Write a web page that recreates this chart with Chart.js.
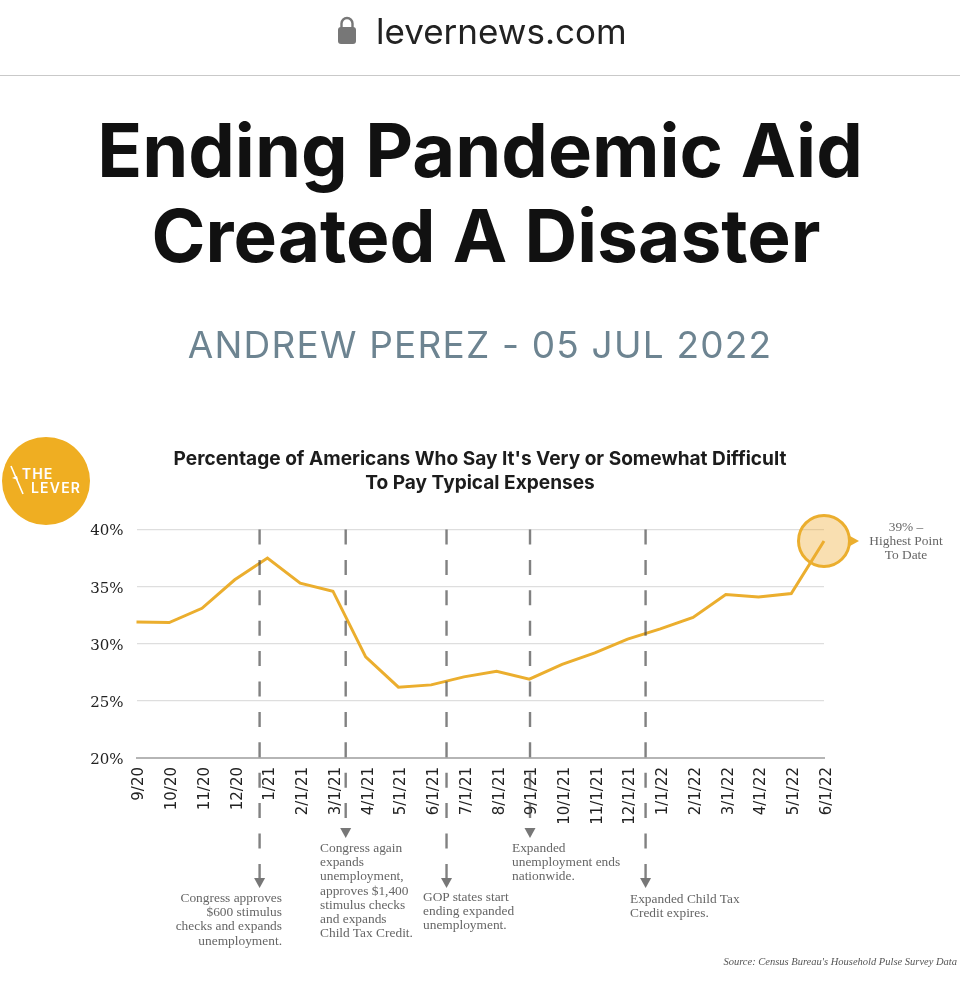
<!DOCTYPE html>
<html lang="en">
<head>
<meta charset="utf-8">
<title>Ending Pandemic Aid Created A Disaster</title>
<script src="https://cdn.jsdelivr.net/npm/chart.js@4/dist/chart.umd.min.js"></script>
<style>
    html, body { margin: 0; padding: 0; background: #fff; }
    #pagina { position: relative; width: 960px; height: 1005px; overflow: hidden; font-family: Inter, sans-serif; }
    #pagina canvas { position: absolute; left: 0; top: 0; }
    .abs { position: absolute; white-space: nowrap; }
    #dominio { left: 376px; top: 10px; font-size: 35px; line-height: 42px; color: #222; }
    #candado { position: absolute; left: 337px; top: 15px; }
    #regla { position: absolute; left: 0; top: 75px; width: 960px; height: 1px; background: #c9c9c9; }
    #titular1 { left: 0; top: 108px; width: 960px; text-align: center; font-size: 74px; line-height: 85px; font-weight: 700; color: #111; }
    #titular2 { left: 6px; top: 193px; width: 960px; text-align: center; font-size: 73px; line-height: 85px; font-weight: 700; color: #111; }
    #firma { left: 0; top: 322px; width: 960px; text-align: center; font-size: 37px; line-height: 46px; color: #6d8491; letter-spacing: 1.2px; }
    #subtitulo { left: 0; top: 447px; width: 960px; text-align: center; font-size: 19.1px; line-height: 23.5px; font-weight: 700; color: #1c1c1c; }
    #logo { position: absolute; left: 2px; top: 437px; width: 88px; height: 88px; border-radius: 50%; background: #efae22; }
    #logo div { position: absolute; color: #fff; font-weight: 600; font-size: 14px; line-height: 14px; letter-spacing: 1.2px; }
    .nota { font-family: "Liberation Serif", serif; font-size: 13.4px; line-height: 14.2px; color: #666; }
    #fuente { right: 3px; top: 956px; font-family: "Liberation Serif", serif; font-style: italic; font-size: 10.5px; line-height: 12px; color: #555; }
</style>
</head>
<body>
<div id="pagina">
    <canvas id="graficaGastos" width="960" height="1005"></canvas>

    <svg id="candado" width="20" height="30" viewBox="0 0 20 30">
        <path d="M4.5 13V8.5a5.5 5.5 0 0 1 11 0V13" fill="none" stroke="#777" stroke-width="2.4"/>
        <rect x="1" y="12" width="18" height="17" rx="3" fill="#777"/>
    </svg>
    <div class="abs" id="dominio">levernews.com</div>
    <div id="regla"></div>
    <div class="abs" id="titular1">Ending Pandemic Aid</div>
    <div class="abs" id="titular2">Created A Disaster</div>
    <div class="abs" id="firma">ANDREW PEREZ - 05 JUL 2022</div>

    <div id="logo">
        <svg width="88" height="88" style="position:absolute;left:0;top:0">
            <line x1="9" y1="29" x2="21" y2="57" stroke="#fff" stroke-width="1.6"/>
            <path d="M10 41 L15 39 L16 43 Z" fill="#fff"/>
        </svg>
        <div style="left:20px;top:30px">THE</div>
        <div style="left:29px;top:44px">LEVER</div>
    </div>

    <div class="abs" id="subtitulo">Percentage of Americans Who Say It's Very or Somewhat Difficult<br>To Pay Typical Expenses</div>

    <div class="abs nota" style="right:678px;top:891px;text-align:right">Congress approves<br>$600 stimulus<br>checks and expands<br>unemployment.</div>
    <div class="abs nota" style="left:320px;top:841px">Congress again<br>expands<br>unemployment,<br>approves $1,400<br>stimulus checks<br>and expands<br>Child Tax Credit.</div>
    <div class="abs nota" style="left:423px;top:890px">GOP states start<br>ending expanded<br>unemployment.</div>
    <div class="abs nota" style="left:512px;top:841px">Expanded<br>unemployment ends<br>nationwide.</div>
    <div class="abs nota" style="left:630px;top:892px">Expanded Child Tax<br>Credit expires.</div>
    <div class="abs nota" style="left:856px;width:100px;top:520px;text-align:center">39% –<br>Highest Point<br>To Date</div>
    <div class="abs" id="fuente">Source: Census Bureau's Household Pulse Survey Data</div>
</div>

<script>
// Datos
const meses = ['9/20','10/20','11/20','12/20','1/21','2/1/21','3/1/21','4/1/21','5/1/21','6/1/21','7/1/21',
    '8/1/21','9/1/21','10/1/21','11/1/21','12/1/21','1/1/22','2/1/22','3/1/22','4/1/22','5/1/22','6/1/22'];
const porcentajes = [31.9, 31.85, 33.1, 35.6, 37.5, 35.3, 34.6, 28.85, 26.2, 26.4, 27.1,
    27.6, 26.9, 28.2, 29.2, 30.4, 31.3, 32.3, 34.3, 34.1, 34.4, 39];
const marcasY = [20, 25, 30, 35, 40];
// Posicion de cada evento, en unidades de la categoria (entre dos meses)
const eventos = [3.76, 6.39, 9.47, 12.02, 15.55];
// Hasta donde baja cada linea punteada, en pixeles de la pagina
const finEvento = [888, 838, 888, 838, 888];

const naranja = '#ebae2e';
const ultimo = porcentajes.length - 1;

// Lineas punteadas de los eventos y flechas
const pluginEventos = {
    id: 'eventos',
    afterDraw(chart) {
        const ctx = chart.ctx;
        const x = chart.scales.x;
        const y = chart.scales.y;
        eventos.forEach((ev, i) => {
            const px = x.getPixelForValue(ev);
            const fin = finEvento[i];
            ctx.save();
            ctx.strokeStyle = 'rgba(70,70,70,0.68)';
            ctx.lineWidth = 2.4;
            ctx.setLineDash([15, 15.4]);
            ctx.beginPath();
            ctx.moveTo(px, y.top);
            ctx.lineTo(px, fin - 10);
            ctx.stroke();
            ctx.setLineDash([]);
            ctx.fillStyle = '#777';
            ctx.beginPath();
            ctx.moveTo(px - 5.5, fin - 10);
            ctx.lineTo(px + 5.5, fin - 10);
            ctx.lineTo(px, fin);
            ctx.closePath();
            ctx.fill();
            ctx.restore();
        });
        // Triangulo a la derecha del circulo
        const p = chart.getDatasetMeta(0).data[ultimo];
        ctx.save();
        ctx.fillStyle = naranja;
        ctx.beginPath();
        ctx.moveTo(p.x + 25, p.y - 5.5);
        ctx.lineTo(p.x + 35, p.y);
        ctx.lineTo(p.x + 25, p.y + 5.5);
        ctx.closePath();
        ctx.fill();
        ctx.restore();
    }
};

new Chart(document.getElementById('graficaGastos'), {
    type: 'line',
    data: {
        labels: meses,
        datasets: [{
            data: porcentajes,
            borderColor: naranja,
            borderWidth: 3,
            tension: 0,
            clip: false,
            pointRadius: porcentajes.map((v, i) => i === ultimo ? 25.5 : 0),
            pointBackgroundColor: 'rgba(240,170,50,0.38)',
            pointBorderColor: naranja,
            pointBorderWidth: 3
        }]
    },
    options: {
        responsive: false,
        animation: false,
        events: [],
        layout: { padding: { left: 76.5, right: 136, top: 529.5, bottom: 177 } },
        plugins: { legend: { display: false }, tooltip: { enabled: false }, title: { display: false } },
        scales: {
            x: {
                afterFit(scale) { scale.height = 70; },
                border: { color: '#b5b5b5', width: 2 },
                grid: { display: false },
                ticks: {
                    autoSkip: false,
                    minRotation: 90,
                    maxRotation: 90,
                    padding: 1,
                    labelOffset: 3,
                    color: '#222',
                    font: { family: '"DejaVu Sans"', size: 15 }
                }
            },
            y: {
                min: 20,
                max: 40,
                afterFit(scale) { scale.width = 60; },
                afterBuildTicks(scale) { scale.ticks = marcasY.map(v => ({ value: v })); },
                border: { display: false },
                grid: { color: '#dedede', lineWidth: 1.2, drawTicks: false },
                ticks: {
                    padding: 13,
                    labelOffset: 2,
                    color: '#222',
                    font: { family: '"DejaVu Serif"', size: 15 },
                    callback: v => v + '%'
                }
            }
        }
    },
    plugins: [pluginEventos]
});
</script>
</body>
</html>
